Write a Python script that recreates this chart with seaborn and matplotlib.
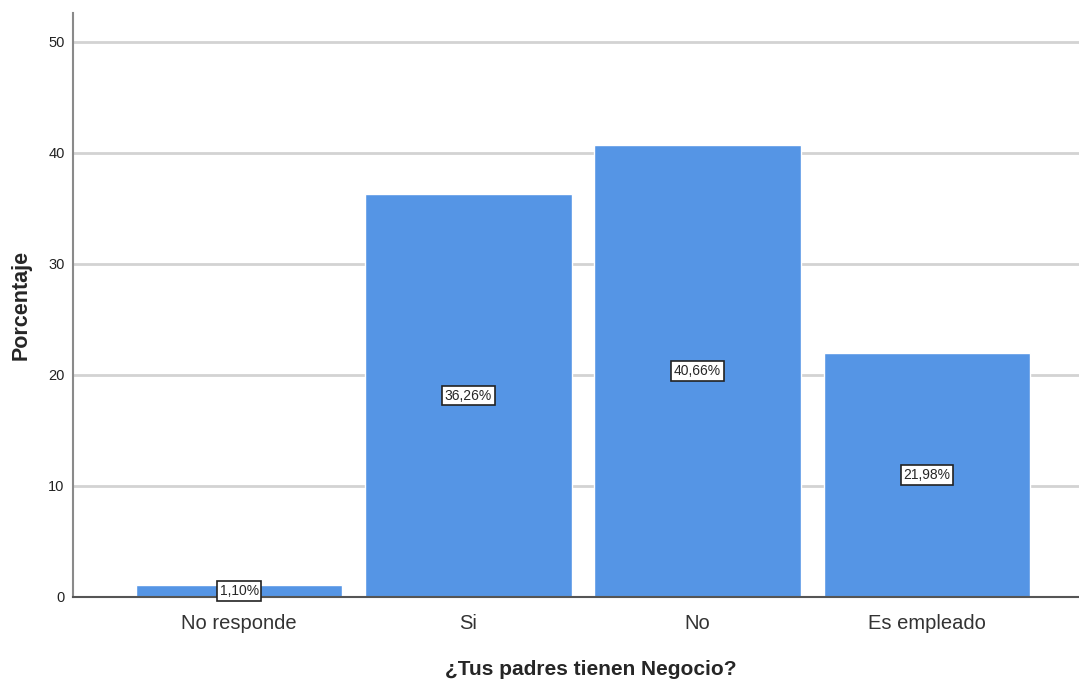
import pandas as pd
import seaborn as sns
import matplotlib.pyplot as plt

categorias = ["No responde", "Si", "No", "Es empleado"]
porcentajes = [1.10, 36.26, 40.66, 21.98]
etiquetas = ["1,10%", "36,26%", "40,66%", "21,98%"]

df = pd.DataFrame({"categoria": categorias, "porcentaje": porcentajes})

sns.set_theme(style="whitegrid")
plt.rcParams['font.family'] = ['Liberation Sans', 'DejaVu Sans']

fig = plt.figure(figsize=(10.79, 6.79), dpi=100)
ax = fig.add_axes([0.0677, 0.1208, 0.9323, 0.8602])

sns.barplot(data=df, x="categoria", y="porcentaje", color="#5595e5",
            width=0.9, saturation=1, ax=ax, zorder=2)

for i, (v, txt) in enumerate(zip(porcentajes, etiquetas)):
    ax.text(i, v / 2, txt, ha="center", va="center", fontsize=10, zorder=5,
            bbox=dict(boxstyle="square,pad=0.2", fc="white", ec="#222222", lw=1.2))

ax.set_ylim(0, 52.6)
ax.set_xlim(-0.724, 3.663)
ax.set_yticks([0, 10, 20, 30, 40, 50])
ax.grid(axis="y", color="#d3d3d3", lw=2)
ax.grid(axis="x", visible=False)
ax.set_axisbelow(True)

for s in ["top", "right"]:
    ax.spines[s].set_visible(False)
ax.spines["left"].set_color("#8a8a8a")
ax.spines["left"].set_linewidth(1.5)
ax.spines["bottom"].set_color("#555555")
ax.spines["bottom"].set_linewidth(1.5)

ax.tick_params(axis="y", labelsize=10.5, colors="#222222", length=0, pad=6)
ax.tick_params(axis="x", labelsize=14.5, colors="#333333", length=0, pad=12)

ax.set_xlabel("¿Tus padres tienen Negocio?", fontsize=15, fontweight="bold", labelpad=20)
ax.xaxis.label.set_x(0.515)
ax.set_ylabel("Porcentaje", fontsize=15.5, fontweight="bold", labelpad=12)

fig.savefig("out.png", dpi=100)
